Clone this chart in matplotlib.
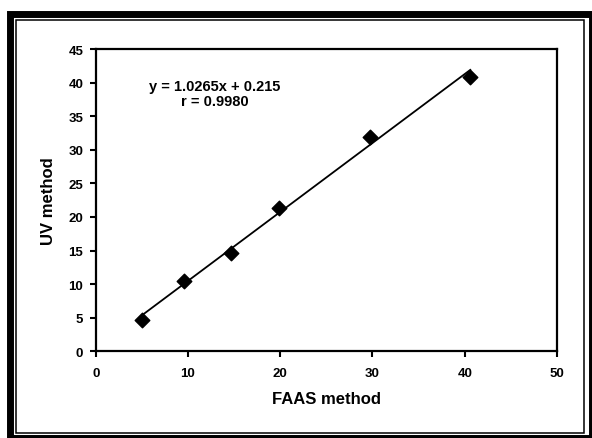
import matplotlib.pyplot as plt
from matplotlib.patches import Rectangle
import numpy as np

plt.rcParams['font.family'] = ['Liberation Sans', 'DejaVu Sans']
plt.rcParams['font.weight'] = 'bold'

# data
faas = [5.0, 9.6, 14.7, 19.9, 29.7, 40.6]
uv = [4.7, 10.5, 14.6, 21.3, 31.9, 40.9]
slope = 1.0265
intercept = 0.215
eq_text = "y = 1.0265x + 0.215\nr = 0.9980"

W, H = 592, 439
fig = plt.figure(figsize=(W / 100, H / 100), dpi=100)

# outer frame: thick band plus thin inner line (pixel coords, y down)
def px_rect(x0, y0, x1, y1, lw):
    fig.patches.append(Rectangle((x0 / W, 1 - y1 / H), (x1 - x0) / W, (y1 - y0) / H,
                                 transform=fig.transFigure, fill=False,
                                 edgecolor='black', linewidth=lw))

px_rect(9.5, 14.5, 591.5, 438.5, 5.0)
px_rect(15.5, 21, 584, 434, 1.1)

ax = fig.add_axes([95.7 / W, 1 - 352.3 / H, (557 - 95.7) / W, (352.3 - 50) / H])

ax.scatter(faas, uv, marker='D', s=55, color='black', zorder=3)
xs = np.array([min(faas), max(faas)])
ax.plot(xs, slope * xs + intercept, color='black', lw=1.3)

ax.set_xlim(0, 50)
ax.set_ylim(0, 45)
ax.set_xticks(range(0, 51, 10))
ax.set_yticks(range(0, 46, 5))
ax.tick_params(direction='out', length=4, width=1.5, labelsize=9.5, pad=5)
ax.tick_params(axis='x', pad=7)
for lab in ax.get_xticklabels() + ax.get_yticklabels():
    lab.set_fontweight('bold')
for s in ax.spines.values():
    s.set_linewidth(1.6)

ax.set_xlabel("FAAS method", fontsize=12, fontweight='bold', labelpad=9)
ax.set_ylabel("UV method", fontsize=12, fontweight='bold', labelpad=9)

ax.text(215 / W, 1 - 94.5 / H, eq_text, transform=fig.transFigure, ha='center', va='center',
        fontsize=10.5, fontweight='bold', linespacing=1.15)

fig.savefig("out.png", dpi=100)
